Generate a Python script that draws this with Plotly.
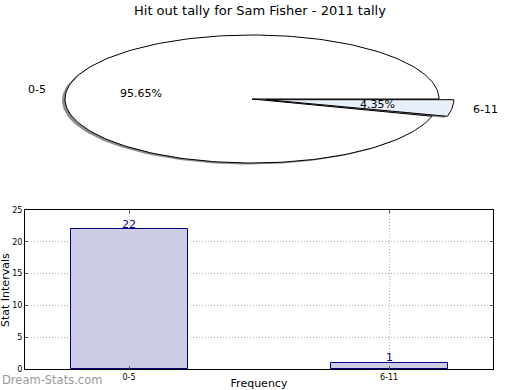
import numpy as np
import plotly.graph_objects as go

# ---- data ----
title_text = "Hit out tally for Sam Fisher - 2011 tally"
categories = ["0-5", "6-11"]
counts = [22, 1]
pie_colors = ["#ffffff", "#eaf0fb"]
explode = [0.0, 0.08]
y_ticks = [0, 5, 10, 15, 20, 25]

# ---- style constants for the pie (axis units ~ pixels) ----
CX, CY = 252.0, 99.0
RX, RY = 187.0, 64.0
FONT = "DejaVu Sans"

fig = go.Figure()

total = float(sum(counts))
fracs = [c / total for c in counts]

def wedge(theta1, theta2, dx, dy, n=200):
    t = np.radians(np.linspace(theta1, theta2, n))
    xs = np.concatenate([[CX + dx], CX + dx + RX * np.cos(t), [CX + dx]])
    ys = np.concatenate([[CY + dy], CY + dy - RY * np.sin(t), [CY + dy]])
    return xs, ys

# wedges (counterclockwise from 0 deg, matplotlib style)
start = 0.0
wedges = []
for lab, f, col, ex in zip(categories, fracs, pie_colors, explode):
    th1, th2 = start, start + 360.0 * f
    mid = np.radians((th1 + th2) / 2)
    dx = ex * RX * np.cos(mid)
    dy = -ex * RY * np.sin(mid)
    wedges.append((lab, f, col, th1, th2, mid, dx, dy))
    start = th2

# shadows
for lab, f, col, th1, th2, mid, dx, dy in wedges:
    xs, ys = wedge(th1, th2, dx - 3.0, dy + 1.5)
    fig.add_trace(go.Scatter(x=xs, y=ys, mode="lines", fill="toself",
                             fillcolor="rgba(0,0,0,0.45)", line=dict(width=0),
                             hoverinfo="skip", showlegend=False,
                             xaxis="x2", yaxis="y2"))
for lab, f, col, th1, th2, mid, dx, dy in wedges:
    xs, ys = wedge(th1, th2, dx, dy)
    fig.add_trace(go.Scatter(x=xs, y=ys, mode="lines", fill="toself",
                             fillcolor=col, line=dict(color="black", width=1),
                             hoverinfo="skip", showlegend=False,
                             xaxis="x2", yaxis="y2"))

# pie labels
for lab, f, col, th1, th2, mid, dx, dy in wedges:
    c, s = np.cos(mid), np.sin(mid)
    fig.add_annotation(x=CX + dx + 1.1 * RX * c, y=CY + dy - 1.1 * RY * s,
                       xref="x2", yref="y2", text=lab, showarrow=False,
                       xanchor="left" if c > 0 else "right", yanchor="middle",
                       font=dict(family=FONT, size=11, color="black"))
    fig.add_annotation(x=CX + dx + 0.6 * RX * c, y=CY + dy - 0.6 * RY * s,
                       xref="x2", yref="y2", text="%.2f%%" % (100 * f), showarrow=False,
                       xanchor="center", yanchor="middle",
                       font=dict(family=FONT, size=11, color="black"))

# bars
fig.add_trace(go.Bar(x=categories, y=counts, width=0.45,
                     marker=dict(color="#ccccE5", line=dict(color="#000080", width=1)),
                     showlegend=False, hoverinfo="skip"))
for cat, v in zip(categories, counts):
    fig.add_annotation(x=cat, y=v, xref="x", yref="y", text=str(v), showarrow=False,
                       yanchor="middle", yshift=5,
                       font=dict(family=FONT, size=11, color="#000080"))

W, H = 520, 390
fig.update_layout(
    width=W, height=H, autosize=False,
    margin=dict(l=0, r=0, t=0, b=0),
    paper_bgcolor="white", plot_bgcolor="white",
    font=dict(family=FONT, color="black"),
    bargap=0,
    xaxis=dict(domain=[25 / W, 493 / W], range=[-0.4, 1.4], type="category",
               showline=True, linecolor="black", linewidth=1, mirror="ticks",
               ticks="inside", ticklen=3, tickcolor="#555", automargin=False,
               showgrid=True, gridcolor="#b4b4b4", griddash="1px,2px", gridwidth=1,
               tickfont=dict(size=8, family=FONT), zeroline=False, fixedrange=True,
               title=dict(text="Frequency", standoff=6,
                          font=dict(family=FONT, size=11, color="black"))),
    yaxis=dict(domain=[1 - 369 / H, 1 - 210 / H], range=[0, 25], tickvals=y_ticks,
               showline=True, linecolor="black", linewidth=1, mirror="ticks",
               ticks="inside", ticklen=3, tickcolor="#555", automargin=False,
               showgrid=True, gridcolor="#b4b4b4", griddash="1px,2px", gridwidth=1,
               tickfont=dict(size=8, family=FONT), zeroline=False, fixedrange=True),
    xaxis2=dict(domain=[0, 1], range=[0, W], visible=False, fixedrange=True),
    yaxis2=dict(domain=[1 - 195 / H, 1], range=[195, 0], visible=False, fixedrange=True),
)

fig.add_annotation(x=260 / W, y=1 - 10 / H, xref="paper", yref="paper",
                   text=title_text, showarrow=False, xanchor="center", yanchor="middle",
                   font=dict(family=FONT, size=13, color="black"))
fig.add_annotation(x=5 / W, y=1 - 290 / H, xref="paper", yref="paper",
                   text="Stat Intervals", showarrow=False, textangle=-90,
                   xanchor="center", yanchor="middle",
                   font=dict(family=FONT, size=11, color="black"))
fig.add_annotation(x=0, y=1 - 380 / H, xref="paper", yref="paper",
                   text="Dream-Stats.com", showarrow=False, xanchor="left", yanchor="middle",
                   font=dict(family=FONT, size=11.5, color="#999999"))

fig.write_html("out.html",
               config={"displayModeBar": False, "responsive": False},
               post_script=("document.documentElement.style.overflow='hidden';"
                            "document.body.style.margin='0';"
                            "document.body.style.overflow='hidden';"))
